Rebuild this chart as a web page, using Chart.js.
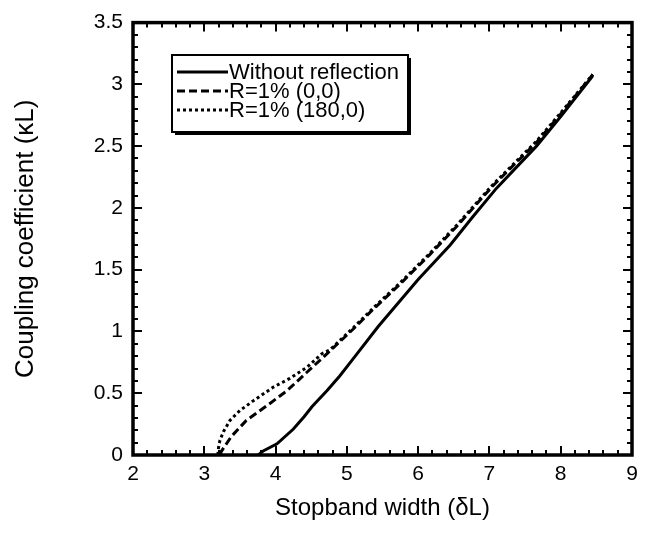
<!DOCTYPE html>
<html>
<head>
<meta charset="utf-8">
<script src="https://cdn.jsdelivr.net/npm/chart.js@4.4.1/dist/chart.umd.min.js"></script>
<style>
  body { margin: 0; background: #fff; }
  #chart { display: block; }
</style>
</head>
<body>
<canvas id="chart" width="648" height="533"></canvas>
<script>
// Dati
const seriesLabels = ['Without reflection', 'R=1% (0,0)', 'R=1% (180,0)'];

const noReflX = [3.76, 3.82, 4.02, 4.25, 4.4, 4.51, 4.72, 4.9, 5.09, 5.44, 6.0, 6.45, 6.77, 7.1, 7.66, 8.0, 8.45];
const noReflY = [0, 0.03, 0.09, 0.21, 0.31, 0.39, 0.52, 0.64, 0.78, 1.04, 1.42, 1.70, 1.93, 2.16, 2.50, 2.74, 3.07];

const r0X = [3.22, 3.24, 3.38, 3.59, 3.88, 4.16, 4.44, 4.76, 5.09, 5.37, 5.74, 6.16, 6.54, 7.05, 7.66, 8.0, 8.45];
const r0Y = [0, 0.03, 0.15, 0.28, 0.40, 0.52, 0.67, 0.84, 1.02, 1.18, 1.38, 1.62, 1.85, 2.18, 2.53, 2.76, 3.08];

const r180X = [3.19, 3.2, 3.22, 3.27, 3.36, 3.5, 3.69, 3.97, 4.2, 4.44, 4.65, 4.76, 5.09, 5.37, 5.74, 6.16, 6.54, 7.05, 7.66, 8.0, 8.45];
const r180Y = [0, 0.06, 0.12, 0.19, 0.28, 0.36, 0.44, 0.55, 0.62, 0.71, 0.82, 0.85, 1.03, 1.19, 1.39, 1.63, 1.86, 2.19, 2.54, 2.77, 3.08];

const xTicks = [2, 3, 4, 5, 6, 7, 8, 9];
const yTicks = [0, 0.5, 1, 1.5, 2, 2.5, 3, 3.5];

const dashes = [[], [8, 4], [3, 3]];
const toPoints = (xs, ys) => xs.map((x, i) => ({ x: x, y: ys[i] }));
const FONT = '"Liberation Sans", Arial, sans-serif';

// Cornice, tacche interne su tutti i lati e legenda
const framePlugin = {
  id: 'frame',
  afterDraw(chart) {
    const ctx = chart.ctx;
    const a = chart.chartArea;
    const sx = chart.scales.x, sy = chart.scales.y;
    ctx.save();
    ctx.strokeStyle = '#000';
    ctx.lineWidth = 2;
    // tacche asse x (minori ogni 0.2)
    for (let i = 0; i <= (xTicks[xTicks.length - 1] - xTicks[0]) * 5; i++) {
      const v = xTicks[0] + i * 0.2;
      const px = Math.round(sx.getPixelForValue(v));
      const len = (i % 5 === 0) ? 9 : 5;
      ctx.beginPath();
      ctx.moveTo(px, a.bottom); ctx.lineTo(px, a.bottom - len);
      ctx.moveTo(px, a.top); ctx.lineTo(px, a.top + len);
      ctx.stroke();
    }
    // tacche asse y (minori ogni 0.1)
    for (let i = 0; i <= 35; i++) {
      const v = i * 0.1;
      const py = Math.round(sy.getPixelForValue(v));
      const len = (i % 5 === 0) ? 9 : 5;
      ctx.beginPath();
      ctx.moveTo(a.left, py); ctx.lineTo(a.left + len, py);
      ctx.moveTo(a.right, py); ctx.lineTo(a.right - len, py);
      ctx.stroke();
    }
    ctx.lineWidth = 3.5;
    ctx.strokeRect(a.left, a.top, a.right - a.left, a.bottom - a.top);

    // legenda
    const lx = 172, ly = 55, lw = 236, lh = 77;
    ctx.fillStyle = '#000';
    ctx.fillRect(lx + 3, ly + 3, lw, lh);
    ctx.fillStyle = '#fff';
    ctx.fillRect(lx, ly, lw, lh);
    ctx.lineWidth = 2;
    ctx.strokeRect(lx, ly, lw, lh);
    ctx.font = '22px ' + FONT;
    ctx.textBaseline = 'middle';
    ctx.textAlign = 'left';
    chart.data.datasets.forEach((ds, i) => {
      const ry = ly + 17 + i * 19;
      ctx.beginPath();
      ctx.setLineDash(ds.borderDash);
      ctx.lineWidth = 3;
      ctx.moveTo(177, ry); ctx.lineTo(228, ry);
      ctx.stroke();
      ctx.setLineDash([]);
      ctx.fillStyle = '#000';
      ctx.fillText(ds.label, 229, ry + 1);
    });
    ctx.restore();
  }
};

const ctx = document.getElementById('chart').getContext('2d');
const chart = new Chart(ctx, {
  type: 'line',
  data: {
    datasets: [
      { label: seriesLabels[0], data: toPoints(noReflX, noReflY), borderDash: dashes[0] },
      { label: seriesLabels[1], data: toPoints(r0X, r0Y), borderDash: dashes[1] },
      { label: seriesLabels[2], data: toPoints(r180X, r180Y), borderDash: dashes[2] }
    ].map(d => Object.assign(d, {
      borderColor: '#000',
      borderWidth: 3,
      pointRadius: 0,
      tension: 0,
      fill: false
    }))
  },
  options: {
    responsive: false,
    animation: false,
    layout: { padding: { top: 20, right: 16, left: 0, bottom: 0 } },
    plugins: { legend: { display: false }, tooltip: { enabled: false } },
    scales: {
      x: {
        type: 'linear',
        min: 2, max: 9,
        grid: { display: false, drawTicks: false },
        border: { display: false },
        afterBuildTicks: axis => { axis.ticks = xTicks.map(v => ({ value: v })); },
        afterFit: axis => { axis.height = 78; },
        ticks: {
          padding: 7,
          color: '#000',
          callback: v => String(v),
          font: { family: FONT, size: 21 }
        },
        title: {
          display: true,
          text: 'Stopband width (δL)',
          color: '#000',
          padding: { top: 0, bottom: 10 },
          font: { family: FONT, size: 24 }
        }
      },
      y: {
        type: 'linear',
        min: 0, max: 3.5,
        grid: { display: false, drawTicks: false },
        border: { display: false },
        afterBuildTicks: axis => { axis.ticks = yTicks.map(v => ({ value: v })); },
        afterFit: axis => { axis.width = 133; },
        ticks: {
          padding: 10,
          color: '#000',
          callback: v => String(v),
          font: { family: FONT, size: 21 }
        },
        title: {
          display: true,
          text: 'Coupling coefficient (κL)',
          color: '#000',
          padding: { top: 10, bottom: 0 },
          font: { family: FONT, size: 26 }
        }
      }
    }
  },
  plugins: [framePlugin]
});
</script>
</body>
</html>
